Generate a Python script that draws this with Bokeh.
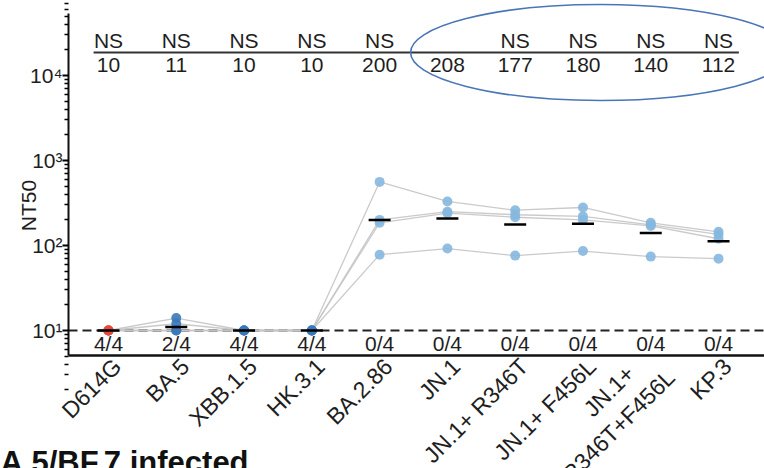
import math
from bokeh.plotting import figure
from bokeh.models import (Range1d, Label, LabelSet, ColumnDataSource,
                          FixedTicker, CustomJSTickFormatter)
from bokeh.embed import file_html
from bokeh.resources import INLINE
from bokeh.core.properties import value

# ---------------- data ----------------
variants = ["D614G", "BA.5", "XBB.1.5", "HK.3.1", "BA.2.86", "JN.1",
            "JN.1+ R346T", "JN.1+ F456L", "JN.1+\nR346T+F456L", "KP.3"]
animal_1 = [10, 14, 10, 10, 560, 330, 260, 280, 185, 145]
animal_2 = [10, 12, 10, 10, 200, 250, 230, 220, 175, 135]
animal_3 = [10, 10, 10, 10, 185, 240, 215, 200, 170, 120]
animal_4 = [10, 10, 10, 10, 78, 92, 76, 86, 74, 70]
gmt_values = [10, 11, 10, 10, 200, 208, 177, 180, 140, 112]
gmt_labels = ["10", "11", "10", "10", "200", "208", "177", "180", "140", "112"]
ns_labels = ["NS", "NS", "NS", "NS", "NS", "", "NS", "NS", "NS", "NS"]
below_lod = ["4/4", "2/4", "4/4", "4/4", "0/4", "0/4", "0/4", "0/4", "0/4", "0/4"]
detection_limit = 10
y_ticks = [10, 100, 1000, 10000]
y_tick_labels = ["10\u00b9", "10\u00b2", "10\u00b3", "10\u2074"]
panel_title = "A.5/BF.7 infected"
y_title = "NT50"

# ---------------- style ----------------
point_colors = ["#e5493d", "#3b78b8", "#3b78b8", "#3b78b8", "#86b8de",
                "#86b8de", "#86b8de", "#86b8de", "#86b8de", "#86b8de"]
FONT = "Liberation Sans"
TXT = "#1e1e1e"
FS = "21px"

xs = list(range(len(variants)))
animals = [animal_1, animal_2, animal_3, animal_4]

# two-line labels: first line set back a little (as in the reference layout)
display_labels = []
for v in variants:
    if "\n" in v:
        first, second = v.split("\n", 1)
        v = first + "\u00a0" * 4 + "\n" + second
    display_labels.append(v)

# plotting window (data coordinates): whole canvas is the frame,
# both axes are fixed inside it
x_lo, x_hi = -1.593, 9.678
y_lo, y_hi = 0.2379, 76250
x_axis_left = -0.59          # where the y axis sits
y_axis_low, y_axis_high = 5.08, 53600
label_shift = 0.13           # rotated category labels end slightly right of each point

p = figure(width=764, height=468, output_backend="svg", toolbar_location=None,
           x_range=Range1d(x_lo, x_hi), y_range=Range1d(y_lo, y_hi),
           y_axis_type="log", min_border_left=0, min_border_right=0,
           min_border_top=0, min_border_bottom=0)
p.outline_line_color = None
p.xgrid.visible = False
p.ygrid.visible = False
p.background_fill_color = "white"

# y axis
minor = [m * 10 ** k for k in range(0, 5) for m in range(2, 10)]
p.yaxis.fixed_location = x_axis_left
p.yaxis.ticker = FixedTicker(ticks=y_ticks, minor_ticks=minor)
p.yaxis.formatter = CustomJSTickFormatter(
    args=dict(major_vals=y_ticks, major_labels=y_tick_labels),
    code="""
    for (let i = 0; i < major_vals.length; i++) {
        if (Math.abs(Math.log10(major_vals[i]) - Math.log10(tick)) < 0.01) return major_labels[i];
    }
    return "";
    """)
p.yaxis.bounds = (y_axis_low, y_axis_high)
p.yaxis.axis_line_width = 2
p.yaxis.axis_line_color = "#111111"
p.yaxis.major_tick_line_width = 2
p.yaxis.major_tick_out = 6
p.yaxis.major_tick_in = 0
p.yaxis.minor_tick_line_width = 1.5
p.yaxis.minor_tick_out = 4
p.yaxis.minor_tick_in = 0
p.yaxis.major_label_standoff = 0
p.yaxis.major_label_text_font = FONT
p.yaxis.major_label_text_font_size = FS
p.yaxis.major_label_text_color = TXT

# x axis with rotated category labels
p.xaxis.fixed_location = y_axis_low
p.xaxis.bounds = (x_axis_left, x_hi)
p.xaxis.ticker = FixedTicker(ticks=[x + label_shift for x in xs], minor_ticks=[])
p.xaxis.formatter = CustomJSTickFormatter(args=dict(cats=display_labels),
                                          code="return cats[Math.round(tick)] ?? '';")
p.xaxis.major_label_orientation = math.pi / 4
p.xaxis.major_label_standoff = 7
p.xaxis.major_tick_out = 0
p.xaxis.major_tick_in = 0
p.xaxis.major_tick_line_color = None
p.xaxis.minor_tick_line_color = None
p.xaxis.axis_line_width = 2.5
p.xaxis.axis_line_color = "#111111"
p.xaxis.major_label_text_font = FONT
p.xaxis.major_label_text_font_size = "23px"
p.xaxis.major_label_text_color = TXT

# detection limit
p.line([x_axis_left, x_hi], [detection_limit, detection_limit], line_color="#222222",
       line_width=2, line_dash="9 5")

# animal lines and points
for a in animals:
    p.line(xs, a, line_color="#c4c4c4", line_width=1.3, line_alpha=0.9)
for a in animals:
    p.scatter(xs, a, size=10, fill_color=point_colors, line_color=None, fill_alpha=0.9)

# geometric mean bars
p.scatter(xs, gmt_values, marker="dash", size=22, line_color="black", line_width=2.5)

# below detection labels
src_lod = ColumnDataSource(dict(x=xs, y=[detection_limit] * len(xs), t=below_lod))
p.add_layout(LabelSet(x="x", y="y", text="t", source=src_lod, y_offset=-13,
                      text_align="center", text_baseline="middle",
                      text_font=value(FONT), text_font_size=FS, text_color=TXT))

# top annotation: line, NS, GMT
y_ann = 18650
p.line([-0.22, 9.3], [y_ann, y_ann], line_color="#333333", line_width=2)
src_top = ColumnDataSource(dict(x=xs, y=[y_ann] * len(xs), ns=ns_labels, g=gmt_labels))
p.add_layout(LabelSet(x="x", y="y", text="ns", source=src_top, y_offset=12,
                      text_align="center", text_baseline="middle",
                      text_font=value(FONT), text_font_size=FS, text_color=TXT))
p.add_layout(LabelSet(x="x", y="y", text="g", source=src_top, y_offset=-13,
                      text_align="center", text_baseline="middle",
                      text_font=value(FONT), text_font_size=FS, text_color=TXT))

# highlight ellipse
p.ellipse(x=[7.26], y=[y_ann], width=380, height=96, width_units="screen",
          height_units="screen", fill_color=None, line_color="#4a76b8", line_width=1.6)

# y title
p.add_layout(Label(x=x_axis_left, y=295, x_offset=-40, text=y_title, angle=math.pi / 2,
                   text_align="center", text_baseline="middle", text_font=FONT,
                   text_font_size=FS, text_color=TXT))

# panel title (cropped on the left and bottom in the reference)
p.add_layout(Label(x=x_lo, y=0.280, text=panel_title, text_align="left",
                   text_baseline="alphabetic", text_font=FONT, text_font_size="31px",
                   text_font_style="bold", text_color="#111111"))

open("out.html", "w").write(file_html(p, INLINE))
